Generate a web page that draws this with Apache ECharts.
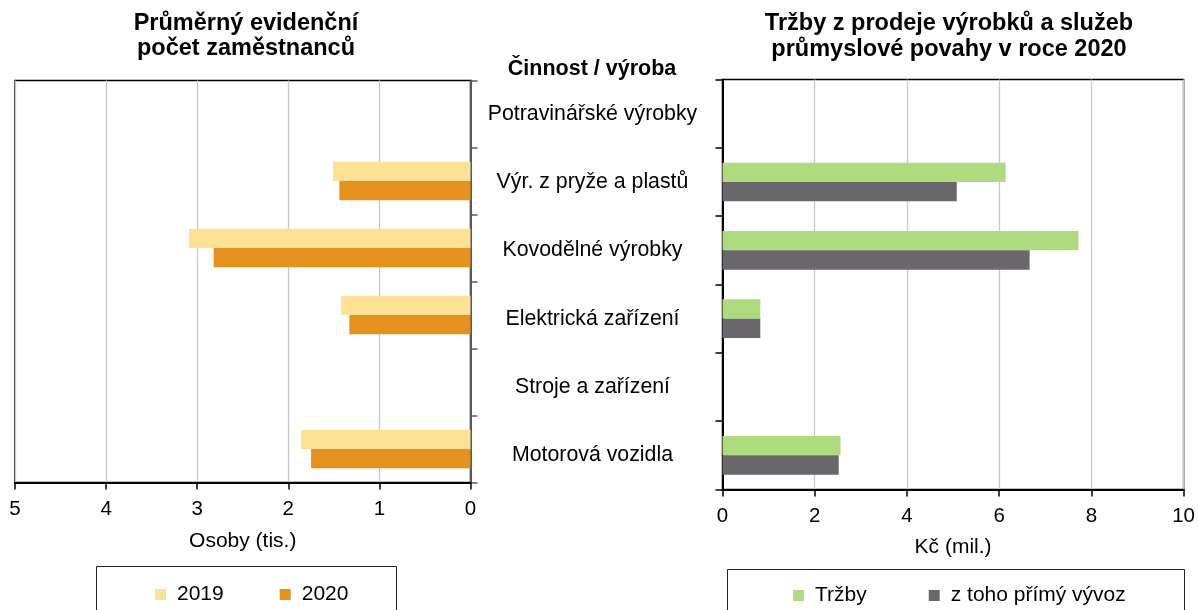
<!DOCTYPE html>
<html>
<head>
<meta charset="utf-8">
<script src="https://cdn.jsdelivr.net/npm/echarts@6/dist/echarts.min.js"></script>
<style>
  html, body { margin: 0; padding: 0; background: #fff; }
  #chart { width: 1198px; height: 610px; }
</style>
</head>
<body>
<div id="chart"></div>
<script>
// kategorie (shora dolu)
var categories = ['Potravinářské výrobky', 'Výr. z pryže a plastů', 'Kovodělné výrobky', 'Elektrická zařízení', 'Stroje a zařízení', 'Motorová vozidla'];

// zaměstnanci, tis. osob
var zam2019 = [null, 1.51, 3.09, 1.42, null, 1.86];
var zam2020 = [null, 1.44, 2.82, 1.33, null, 1.75];

// tržby, mil. Kč
var trzby = [null, 6.14, 7.72, 0.82, null, 2.56];
var vyvoz = [null, 5.08, 6.66, 0.82, null, 2.52];

var leftTicks = [0, 1, 2, 3, 4, 5];
var rightTicks = [0, 2, 4, 6, 8, 10];

var FONT = "'Liberation Sans', Arial, sans-serif";

var chart = echarts.init(document.getElementById('chart'));

chart.setOption({
  animation: false,
  textStyle: { fontFamily: FONT, color: '#000' },
  grid: [
    {
      left: 15, top: 80.5, width: 455.5, height: 402,
      show: true, borderColor: '#000', borderWidth: 1.5, backgroundColor: 'transparent'
    },
    {
      left: 722.5, top: 79.5, width: 461.5, height: 410,
      show: true, borderColor: '#000', borderWidth: 1.5, backgroundColor: 'transparent'
    }
  ],
  xAxis: [
    {
      gridIndex: 0, type: 'value', inverse: true,
      min: leftTicks[0], max: leftTicks[leftTicks.length - 1], interval: 1,
      name: 'Osoby (tis.)', nameLocation: 'middle', nameGap: 48,
      nameTextStyle: { fontSize: 21, color: '#000', fontFamily: FONT },
      axisLine: { show: true, lineStyle: { color: '#000', width: 2 } },
      axisTick: { show: true, length: 7, lineStyle: { color: '#000', width: 1.5 } },
      axisLabel: { fontSize: 20.5, color: '#000', margin: 16, fontFamily: FONT },
      splitLine: { show: true, lineStyle: { color: '#c8c8c8', width: 1.3 } }
    },
    {
      gridIndex: 1, type: 'value',
      min: rightTicks[0], max: rightTicks[rightTicks.length - 1], interval: 2,
      name: 'Kč (mil.)', nameLocation: 'middle', nameGap: 47,
      nameTextStyle: { fontSize: 21, color: '#000', fontFamily: FONT },
      axisLine: { show: true, lineStyle: { color: '#000', width: 2 } },
      axisTick: { show: true, length: 7, lineStyle: { color: '#000', width: 1.5 } },
      axisLabel: { fontSize: 20.5, color: '#000', margin: 16, fontFamily: FONT },
      splitLine: { show: true, lineStyle: { color: '#c8c8c8', width: 1.3 } }
    }
  ],
  yAxis: [
    {
      gridIndex: 0, type: 'category', data: categories, inverse: true, position: 'right',
      axisLine: { show: true, lineStyle: { color: '#595959', width: 2 } },
      axisTick: { show: true, length: 7, lineStyle: { color: '#595959', width: 1.5 } },
      axisLabel: { show: false },
      splitLine: { show: false }
    },
    {
      // popisky kategorií jdou podle pravého grafu (vycentrované mezi grafy)
      gridIndex: 1, type: 'category', data: categories, inverse: true,
      axisLine: { show: true, lineStyle: { color: '#000', width: 2 } },
      axisTick: { show: true, length: 7, lineStyle: { color: '#000', width: 1.5 } },
      axisLabel: { fontSize: 21.3, color: '#000', margin: 130, align: 'center', fontFamily: FONT },
      splitLine: { show: false }
    }
  ],
  legend: [
    {
      data: ['2019', '2020'], left: 150, top: 579,
      icon: 'rect', itemWidth: 11, itemHeight: 11, itemGap: 56,
      textStyle: { fontSize: 21, color: '#000', fontFamily: FONT, padding: [0, 0, 0, 6] }
    },
    {
      data: ['Tržby', 'z toho přímý vývoz'], left: 788, top: 580,
      icon: 'rect', itemWidth: 11, itemHeight: 11, itemGap: 62,
      textStyle: { fontSize: 21, color: '#000', fontFamily: FONT, padding: [0, 0, 0, 6] }
    }
  ],
  graphic: [
    {
      type: 'text', x: 246, y: 11,
      style: { text: 'Průměrný evidenční\npočet zaměstnanců', font: 'bold 23.5px ' + FONT, fill: '#000', textAlign: 'center', lineHeight: 25 }
    },
    {
      type: 'text', x: 949, y: 11,
      style: { text: 'Tržby z prodeje výrobků a služeb\nprůmyslové povahy v roce 2020', font: 'bold 23.5px ' + FONT, fill: '#000', textAlign: 'center', lineHeight: 26 }
    },
    {
      type: 'text', x: 592, y: 58,
      style: { text: 'Činnost / výroba', font: 'bold 21.5px ' + FONT, fill: '#000', textAlign: 'center' }
    },
    {
      type: 'rect', shape: { x: 96.5, y: 566.5, width: 300, height: 60 },
      style: { fill: 'none', stroke: '#222', lineWidth: 1 }, z: -1
    },
    {
      type: 'rect', shape: { x: 727.5, y: 569.5, width: 457, height: 60 },
      style: { fill: 'none', stroke: '#222', lineWidth: 1 }, z: -1
    }
  ],
  series: [
    {
      name: '2019', type: 'bar', xAxisIndex: 0, yAxisIndex: 0,
      data: zam2019, barWidth: 19.3, barGap: 0,
      itemStyle: { color: '#fde194' }
    },
    {
      name: '2020', type: 'bar', xAxisIndex: 0, yAxisIndex: 0,
      data: zam2020, barWidth: 19.3, barGap: 0,
      itemStyle: { color: '#e6901e' }
    },
    {
      name: 'Tržby', type: 'bar', xAxisIndex: 1, yAxisIndex: 1,
      data: trzby, barWidth: 19.3, barGap: 0,
      itemStyle: { color: '#aedb7d' }
    },
    {
      name: 'z toho přímý vývoz', type: 'bar', xAxisIndex: 1, yAxisIndex: 1,
      data: vyvoz, barWidth: 19.3, barGap: 0,
      itemStyle: { color: '#69676c' }
    }
  ]
});
</script>
</body>
</html>
